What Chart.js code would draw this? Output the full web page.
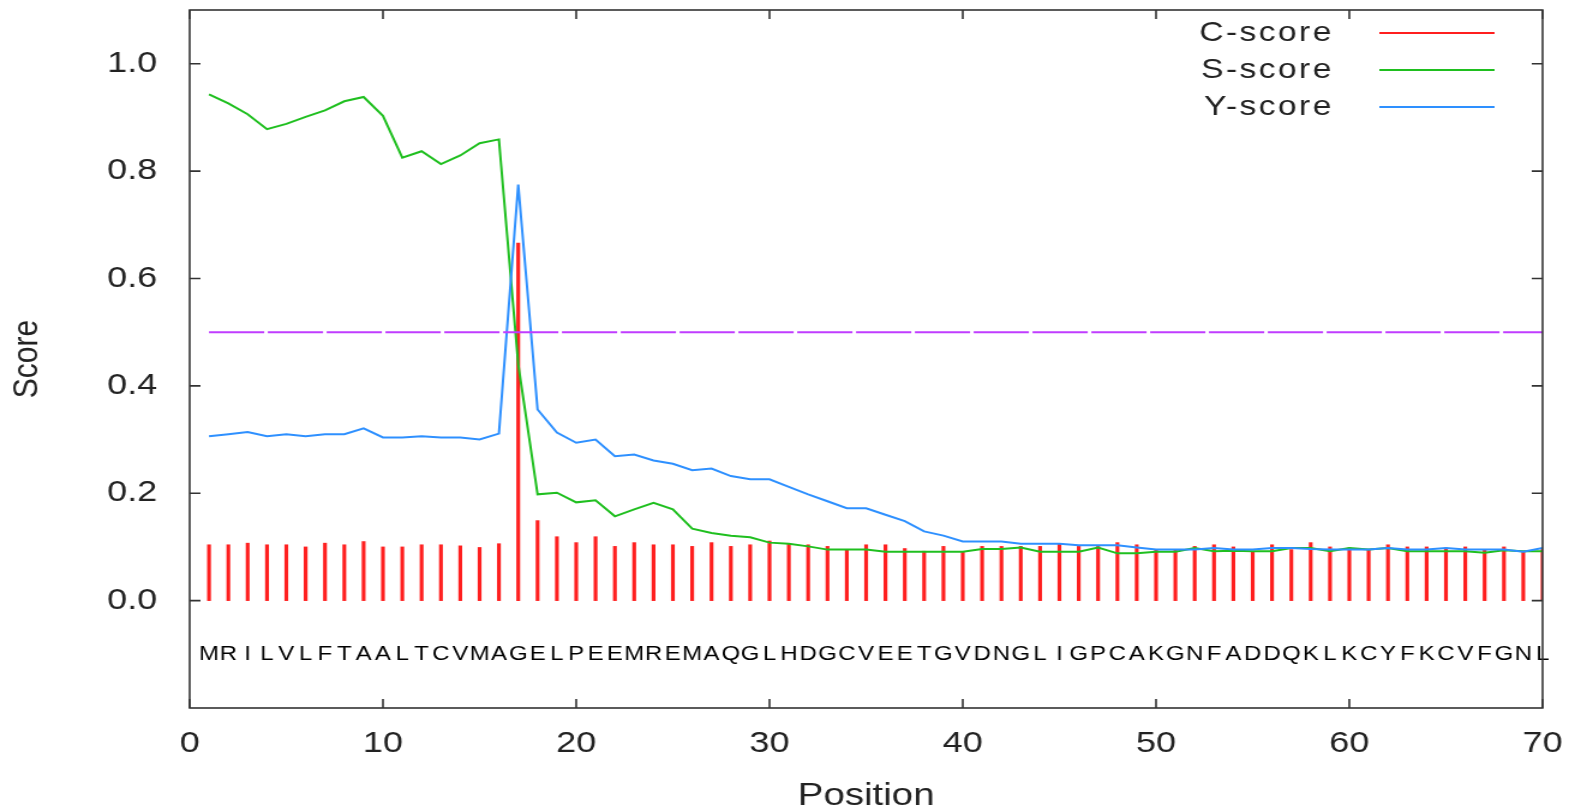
<!DOCTYPE html>
<html>
<head>
<meta charset="utf-8">
<script src="https://cdn.jsdelivr.net/npm/chart.js@4.4.1/dist/chart.umd.min.js"></script>
<style>
  html, body { margin: 0; padding: 0; background: #fff; overflow: hidden; }
</style>
</head>
<body>
<!-- the original plot is stretched sideways, so draw narrow and let CSS widen it -->
<canvas id="chart" width="1307" height="812" style="width:1569px;height:812px"></canvas>
<script>
"use strict";
const $ = id => document.getElementById(id);

/* ---------- data ---------- */
const sequence = "MRILVLFTAALTCVMAGELPEEMREMAQGLHDGCVEETGVDNGLIGPCAKGNFADDQKLKCYFKCVFGNL".split("");
const positions = sequence.map((_, i) => i + 1);

const cScore = [
  0.104, 0.104, 0.107, 0.104, 0.104, 0.100, 0.107, 0.104, 0.110, 0.100,
  0.100, 0.104, 0.104, 0.102, 0.099, 0.106, 0.666, 0.149, 0.119, 0.108,
  0.119, 0.101, 0.108, 0.104, 0.104, 0.101, 0.108, 0.101, 0.104, 0.111,
  0.106, 0.104, 0.101, 0.095, 0.104, 0.104, 0.097, 0.092, 0.101, 0.091,
  0.101, 0.101, 0.101, 0.101, 0.106, 0.101, 0.101, 0.108, 0.104, 0.095,
  0.095, 0.101, 0.104, 0.100, 0.092, 0.104, 0.095, 0.108, 0.100, 0.098,
  0.095, 0.104, 0.100, 0.100, 0.098, 0.100, 0.095, 0.100, 0.092, 0.095];

const sScore = [
  0.943, 0.926, 0.906, 0.878, 0.888, 0.901, 0.913, 0.930, 0.938, 0.903,
  0.825, 0.837, 0.813, 0.829, 0.852, 0.859, 0.440, 0.198, 0.201, 0.183,
  0.187, 0.157, 0.170, 0.182, 0.170, 0.134, 0.126, 0.121, 0.118, 0.108,
  0.106, 0.101, 0.095, 0.095, 0.095, 0.091, 0.091, 0.091, 0.091, 0.091,
  0.096, 0.096, 0.099, 0.091, 0.091, 0.091, 0.099, 0.088, 0.088, 0.091,
  0.091, 0.098, 0.092, 0.093, 0.092, 0.092, 0.098, 0.098, 0.092, 0.098,
  0.095, 0.098, 0.092, 0.092, 0.092, 0.092, 0.089, 0.094, 0.092, 0.092];

const yScore = [
  0.306, 0.310, 0.314, 0.306, 0.310, 0.306, 0.310, 0.310, 0.321, 0.304,
  0.304, 0.306, 0.304, 0.304, 0.300, 0.311, 0.775, 0.356, 0.313, 0.294,
  0.300, 0.269, 0.272, 0.261, 0.255, 0.243, 0.246, 0.232, 0.226, 0.226,
  0.212, 0.198, 0.185, 0.172, 0.172, 0.160, 0.148, 0.129, 0.121, 0.110,
  0.110, 0.110, 0.106, 0.106, 0.106, 0.103, 0.103, 0.103, 0.099, 0.095,
  0.095, 0.095, 0.098, 0.095, 0.095, 0.098, 0.098, 0.096, 0.095, 0.095,
  0.095, 0.098, 0.095, 0.095, 0.098, 0.095, 0.095, 0.095, 0.091, 0.098];

const cutoff = 0.5;
const seqLabelY = -0.1;           // residues are written on this score level
const yTicks = [0, 0.2, 0.4, 0.6, 0.8, 1.0];
const xRange = [0, 70];
const yRange = [-0.2, 1.1];

/* ---------- styling ---------- */
const FONT = "'Liberation Sans', Arial, sans-serif";
const INK = "#222";
const pts = arr => positions.map((x, i) => ({ x, y: arr[i] }));
// tick padding would otherwise be added to the layout margins
const noPad = s => { s.paddingTop = s.paddingBottom = s.paddingLeft = s.paddingRight = 0; };

/* ---------- plugins ---------- */
// gnuplot style frame with inward tick marks on all four sides
const framePlugin = {
  id: "frame",
  afterDraw(c) {
    const { ctx, chartArea: a, scales: { x, y } } = c;
    ctx.save();
    ctx.strokeStyle = "#333";
    ctx.lineWidth = 1.6;
    ctx.beginPath();
    y.ticks.forEach(t => {
      const py = y.getPixelForValue(t.value);
      ctx.moveTo(a.left, py); ctx.lineTo(a.left + 9, py);
      ctx.moveTo(a.right, py); ctx.lineTo(a.right - 9, py);
    });
    x.ticks.forEach(t => {
      const px = x.getPixelForValue(t.value);
      ctx.moveTo(px, a.bottom); ctx.lineTo(px, a.bottom - 9);
      ctx.moveTo(px, a.top); ctx.lineTo(px, a.top + 9);
    });
    ctx.stroke();
    ctx.strokeRect(a.left, a.top, a.right - a.left, a.bottom - a.top);
    ctx.restore();
  }
};

// amino acid letters under the curves
const seqPlugin = {
  id: "seq",
  afterDatasetsDraw(c) {
    const { ctx, scales: { x, y } } = c;
    ctx.save();
    ctx.font = "20px " + FONT;
    ctx.fillStyle = "#000";
    ctx.textAlign = "center";
    ctx.textBaseline = "middle";
    const py = y.getPixelForValue(seqLabelY);
    sequence.forEach((s, i) => ctx.fillText(s, x.getPixelForValue(positions[i]), py));
    ctx.restore();
  }
};

// legend: text on the left, line sample on the right, top right corner
const legendPlugin = {
  id: "keybox",
  afterDraw(c) {
    const { ctx, chartArea: a } = c;
    ctx.save();
    ctx.font = "28px " + FONT;
    ctx.fillStyle = INK;
    ctx.textAlign = "right";
    ctx.textBaseline = "middle";
    if ("letterSpacing" in ctx) ctx.letterSpacing = "2px";
    c.data.datasets.slice(0, 3).forEach((ds, i) => {
      const ry = a.top + 23 + i * 37;
      ctx.fillText(ds.label, a.right - 174, ry);
      ctx.strokeStyle = ds.borderColor || ds.backgroundColor;
      ctx.lineWidth = 2;
      ctx.beginPath();
      ctx.moveTo(a.right - 136, ry);
      ctx.lineTo(a.right - 40, ry);
      ctx.stroke();
    });
    ctx.restore();
  }
};

/* ---------- chart ---------- */
const lineDs = (label, arr, color, order) => ({
  label, data: pts(arr), borderColor: color, borderWidth: 2,
  pointRadius: 0, tension: 0, fill: false, order
});

const chart = new Chart($("chart"), {
  type: "line",
  data: {
    datasets: [
      { type: "bar", label: "C-score", data: pts(cScore), backgroundColor: "#ff1f1f",
        borderColor: "#ff1f1f", barThickness: 2.5, order: 3 },
      lineDs("S-score", sScore, "#1fbf1f", 2),
      lineDs("Y-score", yScore, "#2e90ff", 1),
      { label: "cutoff", data: [{ x: positions[0], y: cutoff }, { x: positions[positions.length - 1], y: cutoff }],
        borderColor: "#c03cff", borderWidth: 2, borderDash: [46, 3], pointRadius: 0, order: 0 }
    ]
  },
  options: {
    responsive: false, devicePixelRatio: 1, animation: false,
    layout: { padding: { left: 0, right: 22, top: 10, bottom: 0 } },
    plugins: { legend: { display: false }, tooltip: { enabled: false } },
    scales: {
      x: {
        type: "linear", min: xRange[0], max: xRange[1], offset: false,
        grid: { display: false, drawTicks: false }, border: { display: false },
        ticks: { stepSize: 10, padding: 18, color: INK, maxRotation: 0, autoSkip: false,
                 font: { family: FONT, size: 30 } },
        title: { display: true, text: "Position", color: INK, padding: { top: 0, bottom: 0 },
                 font: { family: FONT, size: 32, lineHeight: 1 } },
        afterFit: s => { s.height = 104; noPad(s); }
      },
      y: {
        min: yRange[0], max: yRange[1],
        grid: { display: false, drawTicks: false }, border: { display: false },
        afterBuildTicks: s => { s.ticks = yTicks.map(v => ({ value: v })); },
        ticks: { padding: 27, color: INK, font: { family: FONT, size: 30 },
                 callback: v => Number(v).toFixed(1) },
        title: { display: true, text: "Score", color: INK, padding: { top: 5, bottom: 0 },
                 font: { family: FONT, size: 30, lineHeight: 1.2 } },
        afterFit: s => { s.width = 158; noPad(s); }
      }
    }
  },
  plugins: [framePlugin, seqPlugin, legendPlugin]
});
</script>
</body>
</html>
